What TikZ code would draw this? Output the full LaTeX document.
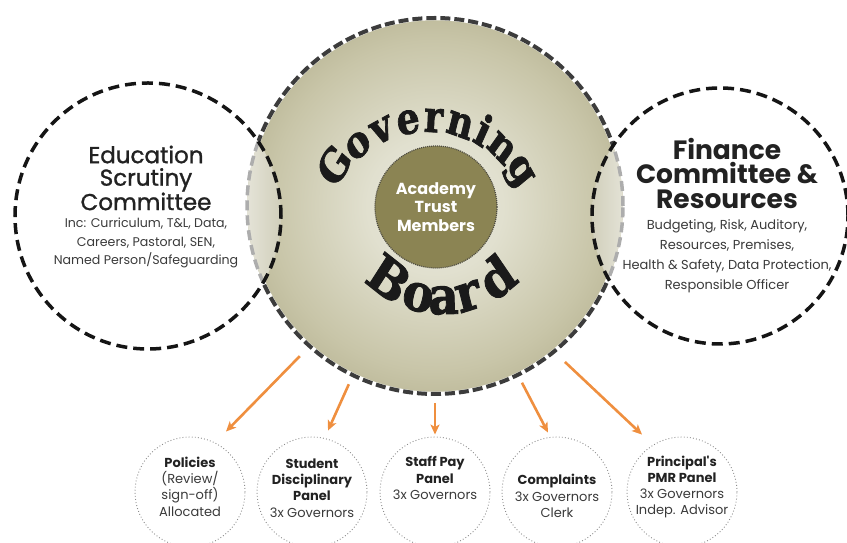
\documentclass[tikz,border=0pt]{standalone}
\usepackage{fontspec}
\usetikzlibrary{calc,arrows.meta}
\newfontfamily\geo{Poppins}
\newfontfamily\geomed[FakeBold=1.2]{Poppins}
\newfontfamily\slab[BoldFeatures={FakeBold=1.8}]{DejaVu Serif}

\definecolor{gbCenter}{HTML}{E9E8DC}
\definecolor{gbInner}{HTML}{E1E0CF}
\definecolor{gbMid}{HTML}{C8C5A8}
\definecolor{gbEdge}{HTML}{A6A17C}
\definecolor{lensLight}{HTML}{E6E5DA}
\definecolor{lensDark}{HTML}{CFCDB8}
\definecolor{innerFill}{HTML}{8B8453}
\definecolor{rimDark}{HTML}{3C3C3C}
\definecolor{rimBlack}{HTML}{151515}
\definecolor{rimGrey}{HTML}{ADADAD}
\definecolor{dotGrey}{HTML}{8C8C8C}
\definecolor{arrowOrange}{HTML}{EF8F3F}
\definecolor{titleInk}{HTML}{222222}
\definecolor{bodyInk}{HTML}{3A3A3A}
\definecolor{govInk}{HTML}{1A1A1A}

\pgfdeclareradialshading{boardshade}{\pgfpoint{0bp}{0bp}}{%
  color(0bp)=(gbCenter); color(9bp)=(gbInner); color(22bp)=(gbMid);
  color(35bp)=(gbEdge); color(50bp)=(gbEdge)}

% bold heading line inside a panel
\newcommand\ptitle[1]{{\bfseries\color{titleInk}#1}}

\begin{document}
\begin{tikzpicture}[x=1pt,y=1pt,
  ring/.style={circle, inner sep=0pt},
  boardrim/.style={draw=rimDark, line width=4pt, dash pattern=on 10pt off 4pt},
  whiterim/.style={draw=white, line width=4.5pt},
  siderim/.style={draw=rimBlack, line width=3.5pt, dash pattern=on 11pt off 6pt},
  lensrim/.style={draw=rimGrey, line width=3.5pt, dash pattern=on 10pt off 5pt},
  panel/.style={circle, inner sep=0pt, minimum size=110pt, draw=dotGrey,
    line width=0.9pt, dash pattern=on 0.9pt off 2.2pt},
  paneltext/.style={align=center, inner sep=0pt, text=bodyInk,
    font=\geo\fontsize{13}{16.3}\selectfont},
  govletter/.style={anchor=base, inner sep=0pt, text=govInk, xscale=0.82,
    font=\slab\bfseries\fontsize{44}{44}\selectfont},
  boardletter/.style={anchor=base, inner sep=0pt, text=govInk, xscale=0.9,
    font=\slab\bfseries\fontsize{52}{52}\selectfont},
  flow/.style={draw=arrowOrange, line width=2.6pt,
    -{Stealth[length=10pt,width=9pt,inset=2.5pt]}},
  ]
\useasboundingbox (0,0) rectangle (847,543);

% circle centres
\node[ring, minimum size=376pt] (gb)  at (435,337) {};
\node[ring, minimum size=266pt] (edu) at (148,327) {};
\node[ring, minimum size=256pt] (fin) at (720,327) {};

% governing board disc
\shade[shading=boardshade] (gb.center) circle[radius=188];

% lighter lenses where the committees overlap the board
\begin{scope}
  \clip (gb.center) circle[radius=188];
  \clip (edu.center) circle[radius=133];
  \shade[left color=lensLight, right color=lensDark] (244,120) rectangle (284,560);
\end{scope}
\begin{scope}
  \clip (gb.center) circle[radius=188];
  \clip (fin.center) circle[radius=128];
  \shade[left color=lensDark, right color=lensLight] (588,120) rectangle (628,560);
\end{scope}

% board rim: dark outside the committees, grey inside them
\begin{scope}[even odd rule]
  \clip (-20,-20) rectangle (867,563)
    (edu.center) circle[radius=133] (fin.center) circle[radius=128];
  \draw[whiterim] (gb.center) circle[radius=188];
  \draw[boardrim] (gb.center) circle[radius=188];
\end{scope}
\begin{scope}
  \clip (edu.center) circle[radius=133] (fin.center) circle[radius=128];
  \draw[lensrim] (gb.center) circle[radius=188];
\end{scope}

% committee rims
\draw[siderim] (edu.center) circle[radius=133];
\draw[siderim] (fin.center) circle[radius=128];

% academy trust members
\node[circle, inner sep=0pt, minimum size=122pt, fill=innerFill,
  draw=rimDark!80!innerFill, line width=1.2pt, dash pattern=on 1pt off 1pt,
  align=center, text=white, font=\geo\bfseries\fontsize{16}{18.5}\selectfont]
  (ac) at (436,336) {Academy\\Trust\\Members};

% arched title, one letter at a time
\coordinate (govc) at (428,308);
\coordinate (brdc) at (442,337);
\foreach \ch/\ang [count=\k] in
  {G/144, o/128.4, v/114.2, e/100.1, r/87.2, n/73.5, i/61.4, n/49.3, g/34.2}
  \node[govletter, rotate=\ang-90] (gov\k) at ($(govc)+(\ang:103)$) {\ch};
\foreach \ch/\ang [count=\k] in
  {B/234.5, o/255.5, a/271, r/286, d/307}
  \node[boardletter, rotate=\ang+90] (brd\k) at ($(brdc)+(\ang:108)$) {\ch};

% committee texts
\node[align=center, text=titleInk, font=\geomed\fontsize{23}{22.5}\selectfont]
  (eduT) at (146,365) {Education\\Scrutiny\\Committee};
\node[align=center, text=bodyInk, font=\geo\fontsize{12.6}{18.5}\selectfont]
  (eduD) at (146,300) {Inc: Curriculum, T\&L, Data,\\Careers, Pastoral, SEN,\\Named Person/Safeguarding};
\node[align=center, text=titleInk, font=\geo\bfseries\fontsize{26.5}{24.5}\selectfont]
  (finT) at (727,370) {Finance\\Committee \&\\Resources};
\node[align=center, text=bodyInk, font=\geo\fontsize{13}{20}\selectfont]
  (finD) at (727,287) {Budgeting, Risk, Auditory,\\Resources, Premises,\\Health \& Safety, Data Protection,\\Responsible Officer};

% panels
\node[panel] (pol) at (190,51) {};
\node[panel] (stu) at (312,51) {};
\node[panel] (pay) at (435,51) {};
\node[panel] (cmp) at (557,51) {};
\node[panel] (pmr) at (682,51) {};
\node[paneltext] (polT) at ($(pol.center)+(0,5.5)$) {\ptitle{Policies}\\(Review/\\sign-off)\\Allocated};
\node[paneltext] (stuT) at ($(stu.center)+(0,4)$) {\ptitle{Student}\\\ptitle{Disciplinary}\\\ptitle{Panel}\\3x Governors};
\node[paneltext] (payT) at ($(pay.center)+(0,14)$) {\ptitle{Staff Pay}\\\ptitle{Panel}\\3x Governors};
\node[paneltext] (cmpT) at ($(cmp.center)+(0,-4)$) {\ptitle{Complaints}\\3x Governors\\Clerk};
\node[paneltext] (pmrT) at ($(pmr.center)+(0,5)$) {\ptitle{Principal's}\\\ptitle{PMR Panel}\\3x Governors\\Indep. Advisor};

% arrow ends
\coordinate (s1) at ($(gb.center)+(228:202)$);
\coordinate (s2) at ($(gb.center)+(244.2:198)$);
\coordinate (s3) at ($(gb.center)+(270:197)$);
\coordinate (s4) at ($(gb.center)+(296.2:197)$);
\coordinate (s5) at ($(gb.center)+(309.8:203)$);
\coordinate (e1) at ($(pol.north)+(36,5)$);
\coordinate (e2) at ($(stu.north)+(16,6)$);
\coordinate (e3) at ($(pay.north)+(0,2)$);
\coordinate (e4) at ($(cmp.north)+(-9,4)$);
\coordinate (e5) at ($(pmr.north)+(-40,2)$);

\draw[flow] (s1) -- (e1);
\draw[flow] (s2) -- (e2);
\draw[flow] (s3) -- (e3);
\draw[flow] (s4) -- (e4);
\draw[flow] (s5) -- (e5);
\end{tikzpicture}
\end{document}
